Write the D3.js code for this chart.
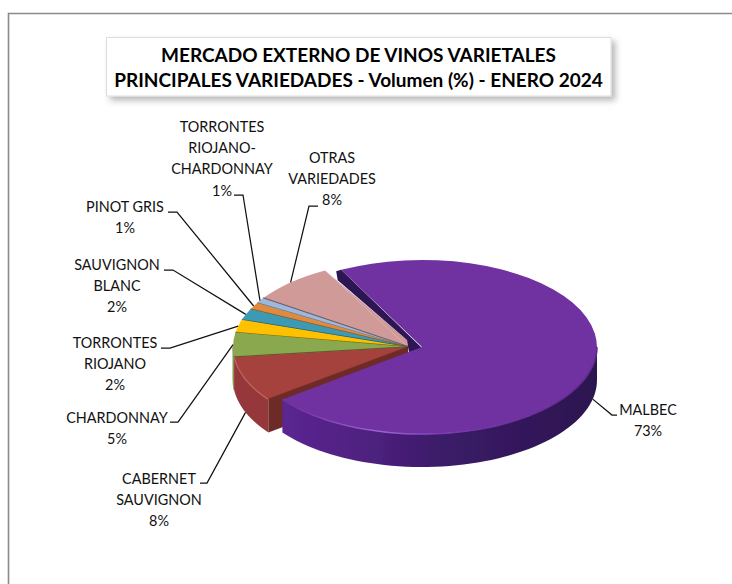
<!DOCTYPE html>
<html lang="es">
<head>
<meta charset="UTF-8">
<title>Mercado externo de vinos varietales</title>
<script src="https://d3js.org/d3.v7.min.js"></script>
<style>
    html, body { margin: 0; padding: 0; background: #fff; overflow: hidden; }
    svg { display: block; }
    text { font-family: Lato, "Open Sans", sans-serif; fill: #111; }
    .label { font-size: 14.4px; text-anchor: middle; }
    .title { font-size: 19px; font-weight: 700; text-anchor: middle; fill: #000; }
</style>
</head>
<body>
<div id="chart"></div>
<script>
// values
const varieties = ["MALBEC", "CABERNET SAUVIGNON", "CHARDONNAY", "TORRONTES RIOJANO", "SAUVIGNON BLANC", "PINOT GRIS", "TORRONTES RIOJANO-CHARDONNAY", "OTRAS VARIEDADES"];
const volumes = [72.5, 8.5, 4.5, 2.4, 2.1, 1.3, 1.0, 7.7];
const percentLabels = ["73%", "8%", "5%", "2%", "2%", "1%", "1%", "8%"];
const labelLines = [
    ["MALBEC"],
    ["CABERNET", "SAUVIGNON"],
    ["CHARDONNAY"],
    ["TORRONTES", "RIOJANO"],
    ["SAUVIGNON", "BLANC"],
    ["PINOT GRIS"],
    ["TORRONTES", "RIOJANO-", "CHARDONNAY"],
    ["OTRAS", "VARIEDADES"]
];
const titleLines = ["MERCADO EXTERNO DE VINOS VARIETALES", "PRINCIPALES VARIEDADES - Volumen (%) - ENERO 2024"];

// colours: top face, rim wall, radial wall / edge
const topColors = ["#7030a0", "#a5423e", "#8aa84e", "#ffc000", "#3c9ab5", "#e08a3c", "#9db8de", "#d09a98"];
const rimColors = ["#4a2178", "#96393a", "#7d9a46", "#d9a300", "#327f96", "#bd7432", "#8299b8", "#ae8180"];
const edgeColors = ["#2f1755", "#6e2a26", "#4f5f2a", "#7f6a10", "#26606f", "#8a5a2a", "#6b7a90", "#6d5c5e"];

// label placement: text centre, first baseline, leader elbow and end
const labelPos = [
    { x: 648, y: 415, ex: 612, ey: 415, tx: 617 },
    { x: 159, y: 484, ex: 207, ey: 483, tx: 200 },
    { x: 117, y: 423, ex: 178, ey: 422, tx: 170 },
    { x: 115, y: 348, ex: 170, ey: 348, tx: 161 },
    { x: 117, y: 270, ex: 173, ey: 270, tx: 164 },
    { x: 125, y: 212, ex: 177, ey: 212, tx: 168 },
    { x: 222, y: 132, ex: 243, ey: 195, tx: 234 },
    { x: 332, y: 163, ex: 309, ey: 206, tx: 318 }
];

const width = 732;
const height = 584;
const cx = 408, cy = 347;      // centre of the small slices
const malbecDx = 14;           // Malbec is pulled out to the right
const rx = 175, ry = 87, depth = 33;
const lineH = 21.2;

const svg = d3.select("#chart").append("svg")
    .attr("width", width)
    .attr("height", height);

const defs = svg.append("defs");

const shadow = defs.append("filter").attr("id", "boxShadow")
    .attr("x", "-5%").attr("y", "-20%").attr("width", "115%").attr("height", "150%");
shadow.append("feDropShadow")
    .attr("dx", 4).attr("dy", 4).attr("stdDeviation", 3)
    .attr("flood-color", "#000").attr("flood-opacity", 0.28);

defs.append("filter").attr("id", "soft")
    .append("feGaussianBlur").attr("stdDeviation", 0.35);

const malbecSide = defs.append("linearGradient").attr("id", "malbecSide")
    .attr("gradientUnits", "userSpaceOnUse")
    .attr("x1", 288).attr("x2", 597).attr("y1", 0).attr("y2", 0);
malbecSide.selectAll("stop")
    .data([[0, "#5a2590"], [0.25, "#4f2180"], [0.5, "#3b1b68"], [1, "#2c1650"]])
    .enter().append("stop")
    .attr("offset", d => d[0]).attr("stop-color", d => d[1]);

const malbecBevel = defs.append("linearGradient").attr("id", "malbecBevel")
    .attr("gradientUnits", "userSpaceOnUse")
    .attr("x1", 288).attr("x2", 597).attr("y1", 0).attr("y2", 0);
malbecBevel.selectAll("stop")
    .data([[0, "#7030a0"], [0.3, "#9a62cf"], [0.5, "#7c3bb0"], [1, "#5b2787"]])
    .enter().append("stop")
    .attr("offset", d => d[0]).attr("stop-color", d => d[1]);

// frame, runs off the right and bottom of the picture
svg.append("path")
    .attr("d", `M${width + 2},13.5H8.5V${height + 2}`)
    .attr("fill", "none")
    .attr("stroke", "#8a8a8a")
    .attr("stroke-width", 1.6);

// title box
svg.append("rect")
    .attr("x", 106.5).attr("y", 37.5)
    .attr("width", 504.5).attr("height", 58.5)
    .attr("fill", "#fff")
    .attr("stroke", "#dcdcdc")
    .attr("filter", "url(#boxShadow)");

svg.selectAll(".title")
    .data(titleLines)
    .enter().append("text")
    .attr("class", "title")
    .attr("x", 358.5)
    .attr("y", (d, i) => 62 + i * 25)
    .text(d => d);

const pie = d3.pie().sort(null)
    .startAngle(-27.5 * Math.PI / 180)
    .endAngle(331.7 * Math.PI / 180);
const slices = pie(volumes);

const arc = d3.arc().innerRadius(0).outerRadius(1);

// point on the ellipse for a pie angle
const px = (a, x0) => x0 + rx * Math.sin(a);
const py = (a, y0) => y0 - ry * Math.cos(a);

// outer wall between two angles, only the part facing the viewer
function rimPath(a0, a1, x0) {
    const from = Math.max(a0, Math.PI / 2);
    const to = Math.min(a1, Math.PI * 1.5);
    if (to <= from) return null;
    const steps = d3.range(0, 61).map(i => from + (to - from) * i / 60);
    const upper = steps.map(a => [px(a, x0), py(a, cy)]);
    const lower = steps.slice().reverse().map(a => [px(a, x0), py(a, cy) + depth]);
    return d3.line()(upper.concat(lower)) + "Z";
}

// lighter line along the front of a slice's top face
function rimLine(a0, a1, x0) {
    const steps = d3.range(0, 61).map(i => a0 + (a1 - a0) * i / 60);
    return d3.line()(steps.map(a => [px(a, x0), py(a, cy)]));
}

const pieG = svg.append("g").attr("filter", "url(#soft)");

function face(g, d, i, x0) {
    g.append("path")
        .attr("d", arc(d))
        .attr("transform", `translate(${x0},${cy}) scale(${rx},${ry})`)
        .attr("fill", topColors[i]);
}

// small slices, back to front, so the nearer ones cover the others
d3.range(slices.length - 1, 0, -1).forEach(i => {
    const d = slices[i];
    const rim = rimPath(d.startAngle, d.endAngle, cx);
    if (rim) {
        pieG.append("path").attr("d", rim)
            .attr("fill", rimColors[i])
            .attr("stroke", i === 2 ? rimColors[i] : "none");
    }

    if (i === 1) {
        // Cabernet shows its cut side next to Malbec
        const a = d.startAngle, ex = px(a, cx), ey = py(a, cy);
        pieG.append("path")
            .attr("d", d3.line()([[ex, ey], [ex, ey + depth], [cx, cy + depth], [cx, cy]]) + "Z")
            .attr("fill", edgeColors[1]);
    }

    face(pieG, d, i, cx);

    if (i === 7) {
        // the back edge of Otras runs a little above the centre
        const a = d.endAngle;
        pieG.append("path")
            .attr("d", d3.line()([[px(a, cx), py(a, cy)], [cx - 1, cy - 7], [cx, cy]]) + "Z")
            .attr("fill", topColors[7]);
    }

    if (i === 1) {
        pieG.append("path")
            .attr("d", rimLine(d.startAngle, d.endAngle, cx))
            .attr("fill", "none")
            .attr("stroke", "#c4625c")
            .attr("stroke-width", 1.2);
    }

    pieG.append("line")
        .attr("x1", cx).attr("y1", cy)
        .attr("x2", px(d.startAngle, cx)).attr("y2", py(d.startAngle, cy))
        .attr("stroke", edgeColors[i])
        .attr("stroke-width", i === 7 ? 2 : 1.3);
});

// dark wall on the back edge of Malbec, it lies over the edge of Otras
const ma = slices[0].startAngle;
const mx = px(ma, cx + malbecDx), my = py(ma, cy);
pieG.append("path")
    .attr("d", d3.line()([
        [mx, my], [mx - 5, my + 1.5], [mx - 3.5, my + 10.5],
        [cx - 1, cy - 7], [cx + 1, cy + 6], [cx + malbecDx, cy + 1]
    ]) + "Z")
    .attr("fill", edgeColors[0]);

// Malbec on top
pieG.append("path")
    .attr("d", rimPath(slices[0].startAngle, slices[0].endAngle, cx + malbecDx))
    .attr("fill", "url(#malbecSide)");
face(pieG, slices[0], 0, cx + malbecDx);

pieG.append("path")
    .attr("d", rimLine(Math.PI / 2, slices[0].endAngle, cx + malbecDx))
    .attr("fill", "none")
    .attr("stroke", "url(#malbecBevel)")
    .attr("stroke-width", 1.5);

// leader lines start at the middle of each slice's rim
slices.forEach((d, i) => {
    const mid = (d.startAngle + d.endAngle) / 2;
    const x0 = i === 0 ? cx + malbecDx : cx;
    const low = mid < Math.PI * 1.5 ? depth : 0;
    const p = labelPos[i];
    svg.append("path")
        .attr("d", d3.line()([[px(mid, x0), py(mid, cy) + low], [p.ex, p.ey], [p.tx, p.ey]]))
        .attr("fill", "none")
        .attr("stroke", "#111")
        .attr("stroke-width", 1.25);
});

// labels
labelLines.forEach((lines, i) => {
    const p = labelPos[i];
    svg.selectAll(null)
        .data(lines.concat(percentLabels[i]))
        .enter().append("text")
        .attr("class", "label")
        .attr("x", p.x)
        .attr("y", (d, j) => p.y + j * lineH)
        .text(d => d);
});
</script>
</body>
</html>
